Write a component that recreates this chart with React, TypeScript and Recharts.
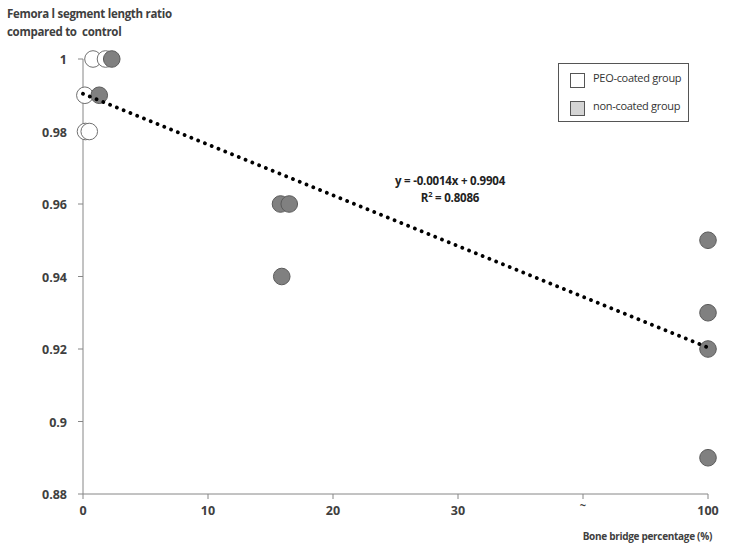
import React from "react";
import { ScatterChart, Scatter, XAxis, YAxis } from "recharts";

// Bone bridge percentage (%) and femoral segment length ratio
const peoX = [0.15, 0.2, 0.5, 0.8, 1.8];
const peoY = [0.99, 0.98, 0.98, 1.0, 1.0];
const nonX = [1.3, 2.3, 15.8, 16.5, 15.9, 100, 100, 100, 100];
const nonY = [0.99, 1.0, 0.96, 0.96, 0.94, 0.95, 0.93, 0.92, 0.89];

const xTicks = [0, 10, 20, 30, 40, 50];
const xTickLabels = ["0", "10", "20", "30", "~", "100"];
const yTicks = [0.88, 0.9, 0.92, 0.94, 0.96, 0.98, 1];

const trendSlope = -0.0014;
const trendIntercept = 0.9904;
const equationText = "y = -0.0014x + 0.9904";
const r2Text = "0.8086";

// broken axis: the "100" group is placed at the last tick position
const BREAK_VALUE = 100;
const BREAK_POS = 50;
const toAxis = (x: number) => (x >= BREAK_VALUE ? BREAK_POS : x);

const peoData = peoX.map((x, i) => ({ x: toAxis(x), y: peoY[i] }));
const nonData = nonX.map((x, i) => ({ x: toAxis(x), y: nonY[i] }));
const trendData = [0, BREAK_POS].map((x) => ({ x, y: trendIntercept + trendSlope * x }));

const FONT = "'Open Sans', 'Liberation Sans', sans-serif";
const TEXT = "#404040";
const AXIS = "#868686";

const WhiteDot = (p: any) => (
  <circle cx={p.cx} cy={p.cy} r={8.3} fill="#ffffff" stroke="#707070" strokeWidth={1} />
);
const GrayDot = (p: any) => (
  <circle cx={p.cx} cy={p.cy} r={8.3} fill="#808080" stroke="#5a5a5a" strokeWidth={1} />
);
const NoDot = () => <g />;

const XTick = (p: any) => {
  const i = xTicks.indexOf(p.payload.value);
  const label = i >= 0 ? xTickLabels[i] : String(p.payload.value);
  const tilde = label === "~";
  return (
    <text
      x={p.x}
      y={p.y + (tilde ? 8 : 14)}
      textAnchor="middle"
      fontFamily={FONT}
      fontWeight={700}
      fontSize={tilde ? 11 : 12.5}
      fill={TEXT}
    >
      {label}
    </text>
  );
};

const YTick = (p: any) => {
  const v = +Number(p.payload.value).toFixed(2);
  return (
    <text
      x={p.x - 9}
      y={p.y + 5}
      textAnchor="end"
      fontFamily={FONT}
      fontWeight={700}
      fontSize={12.5}
      fill={TEXT}
    >
      {String(v)}
    </text>
  );
};

export default function App() {
  return (
    <div style={{ position: "absolute", left: 0, top: 0, width: 729, height: 549, background: "#fff" }}>
      <ScatterChart width={729} height={549} margin={{ top: 59, right: 21, left: 0, bottom: 0 }}>
        <XAxis
          type="number"
          dataKey="x"
          domain={[0, 50]}
          ticks={xTicks}
          interval={0}
          stroke={AXIS}
          tickLine={{ stroke: AXIS }}
          tickSize={5}
          height={55}
          tick={<XTick />}
        />
        <YAxis
          type="number"
          dataKey="y"
          domain={[0.88, 1]}
          ticks={yTicks}
          interval={0}
          stroke={AXIS}
          tickLine={{ stroke: AXIS }}
          tickSize={5}
          width={83}
          tick={<YTick />}
        />
        <Scatter data={peoData} shape={<WhiteDot />} isAnimationActive={false} />
        <Scatter data={nonData} shape={<GrayDot />} isAnimationActive={false} />
        <Scatter
          data={trendData}
          shape={<NoDot />}
          line={{
            stroke: "#000",
            strokeWidth: 3.8,
            strokeDasharray: "0.01 7.3",
            strokeLinecap: "round",
          }}
          lineType="joint"
          isAnimationActive={false}
        />
      </ScatterChart>

      <div
        style={{
          position: "absolute",
          left: 7,
          top: 5,
          fontFamily: FONT,
          fontWeight: 700,
          fontSize: 11.5,
          lineHeight: "18px",
          color: TEXT,
          whiteSpace: "pre",
          letterSpacing: -0.3,
        }}
      >
        {"Femora l segment length ratio\ncompared to  control"}
      </div>

      <div
        style={{
          position: "absolute",
          left: 371,
          width: 158,
          top: 172,
          textAlign: "center",
          fontFamily: FONT,
          fontWeight: 700,
          fontSize: 11.5,
          lineHeight: "17px",
          color: "#222",
          letterSpacing: -0.2,
        }}
      >
        <div>{equationText}</div>
        <div>
          R<sup style={{ fontSize: 7.5, lineHeight: 0 }}>2</sup> = {r2Text}
        </div>
      </div>

      <div
        style={{
          position: "absolute",
          right: 17,
          top: 529,
          fontFamily: FONT,
          fontWeight: 700,
          fontSize: 10,
          color: TEXT,
          letterSpacing: -0.3,
          whiteSpace: "nowrap",
        }}
      >
        Bone bridge percentage (%)
      </div>

      <div
        style={{
          position: "absolute",
          left: 558,
          top: 63,
          width: 131,
          height: 59,
          border: "1px solid #555",
          boxSizing: "border-box",
          background: "#fff",
          fontFamily: FONT,
          fontSize: 11,
          color: "#333",
        }}
      >
        <div style={{ position: "absolute", left: 11, top: 9, width: 13, height: 13, border: "1px solid #555", background: "#fff" }} />
        <div style={{ position: "absolute", left: 34, top: 6, whiteSpace: "nowrap", letterSpacing: -0.3 }}>PEO-coated group</div>
        <div style={{ position: "absolute", left: 11, top: 37, width: 13, height: 13, border: "1px solid #555", background: "#d4d4d4" }} />
        <div style={{ position: "absolute", left: 34, top: 34, whiteSpace: "nowrap", letterSpacing: -0.3 }}>non-coated group</div>
      </div>
    </div>
  );
}
